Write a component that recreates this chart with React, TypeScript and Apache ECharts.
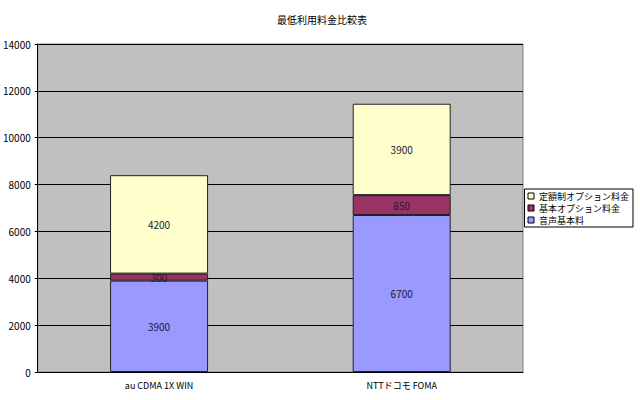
import { useEffect, useRef } from 'react'
import * as echarts from 'echarts'

const CATEGORIES = ['au CDMA 1X WIN', 'NTTドコモ FOMA']
const VOICE_BASE = [3900, 6700] // 音声基本料
const BASIC_OPTION = [300, 850] // 基本オプション料金
const FLAT_OPTION = [4200, 3900] // 定額制オプション料金
const Y_MAX = 14000
const Y_STEP = 2000

const FONT = "'Noto Sans CJK JP', 'Noto Sans', sans-serif"

const COLOR = {
  voice: '#9999ff',
  basic: '#993366',
  flat: '#ffffcc',
  plot: '#c0c0c0',
  ink: '#000000',
}

function buildOption(): echarts.EChartsOption {
  const label = {
    show: true,
    position: 'inside' as const,
    color: '#1a1a33',
    fontSize: 10,
    fontFamily: FONT,
  }
  const stackSeries = (name: string, data: number[], color: string) => ({
    name,
    type: 'bar' as const,
    stack: 'total',
    data,
    barWidth: 98,
    label,
    itemStyle: { color, borderColor: '#222', borderWidth: 1 },
  })
  return {
    animation: false,
    textStyle: { fontFamily: FONT },
    title: {
      text: '最低利用料金比較表',
      left: 317,
      textAlign: 'center',
      top: 9,
      textStyle: { fontSize: 10, fontWeight: 'normal', color: COLOR.ink, fontFamily: FONT },
    },
    grid: {
      left: 34,
      right: 117,
      top: 44,
      bottom: 28,
      show: true,
      backgroundColor: COLOR.plot,
      borderColor: '#808080',
      borderWidth: 1,
    },
    legend: {
      orient: 'vertical',
      right: 7,
      top: 189,
      icon: 'rect',
      itemWidth: 6,
      itemHeight: 6,
      itemGap: 2,
      padding: [2, 4, 2, 3],
      borderColor: COLOR.ink,
      borderWidth: 1,
      backgroundColor: '#fff',
      data: ['定額制オプション料金', '基本オプション料金', '音声基本料'],
      textStyle: { fontSize: 9, lineHeight: 10, color: COLOR.ink, fontFamily: FONT },
      itemStyle: { borderColor: '#000', borderWidth: 1 },
    },
    xAxis: {
      type: 'category',
      data: CATEGORIES,
      axisLine: { lineStyle: { color: COLOR.ink, width: 1 } },
      axisTick: { show: false },
      axisLabel: { color: COLOR.ink, fontSize: 9, margin: 9, fontFamily: FONT },
    },
    yAxis: {
      type: 'value',
      min: 0,
      max: Y_MAX,
      interval: Y_STEP,
      axisLine: { show: true, lineStyle: { color: COLOR.ink, width: 1 } },
      axisTick: { show: true, length: 3, lineStyle: { color: COLOR.ink } },
      axisLabel: {
        color: COLOR.ink,
        fontSize: 10,
        margin: 7,
        fontFamily: FONT,
        formatter: (v: number) => String(v),
      },
      splitLine: { lineStyle: { color: COLOR.ink, width: 1 } },
    },
    series: [
      stackSeries('音声基本料', VOICE_BASE, COLOR.voice),
      stackSeries('基本オプション料金', BASIC_OPTION, COLOR.basic),
      stackSeries('定額制オプション料金', FLAT_OPTION, COLOR.flat),
    ],
  }
}

export default function App() {
  const ref = useRef<HTMLDivElement>(null)

  useEffect(() => {
    const el = ref.current
    if (!el) return
    const chart = echarts.init(el, undefined, { renderer: 'svg' })
    chart.setOption(buildOption())
    return () => chart.dispose()
  }, [])

  return (
    <div
      ref={ref}
      style={{ position: 'fixed', left: 0, top: 0, width: 640, height: 400, background: '#fff' }}
    />
  )
}
